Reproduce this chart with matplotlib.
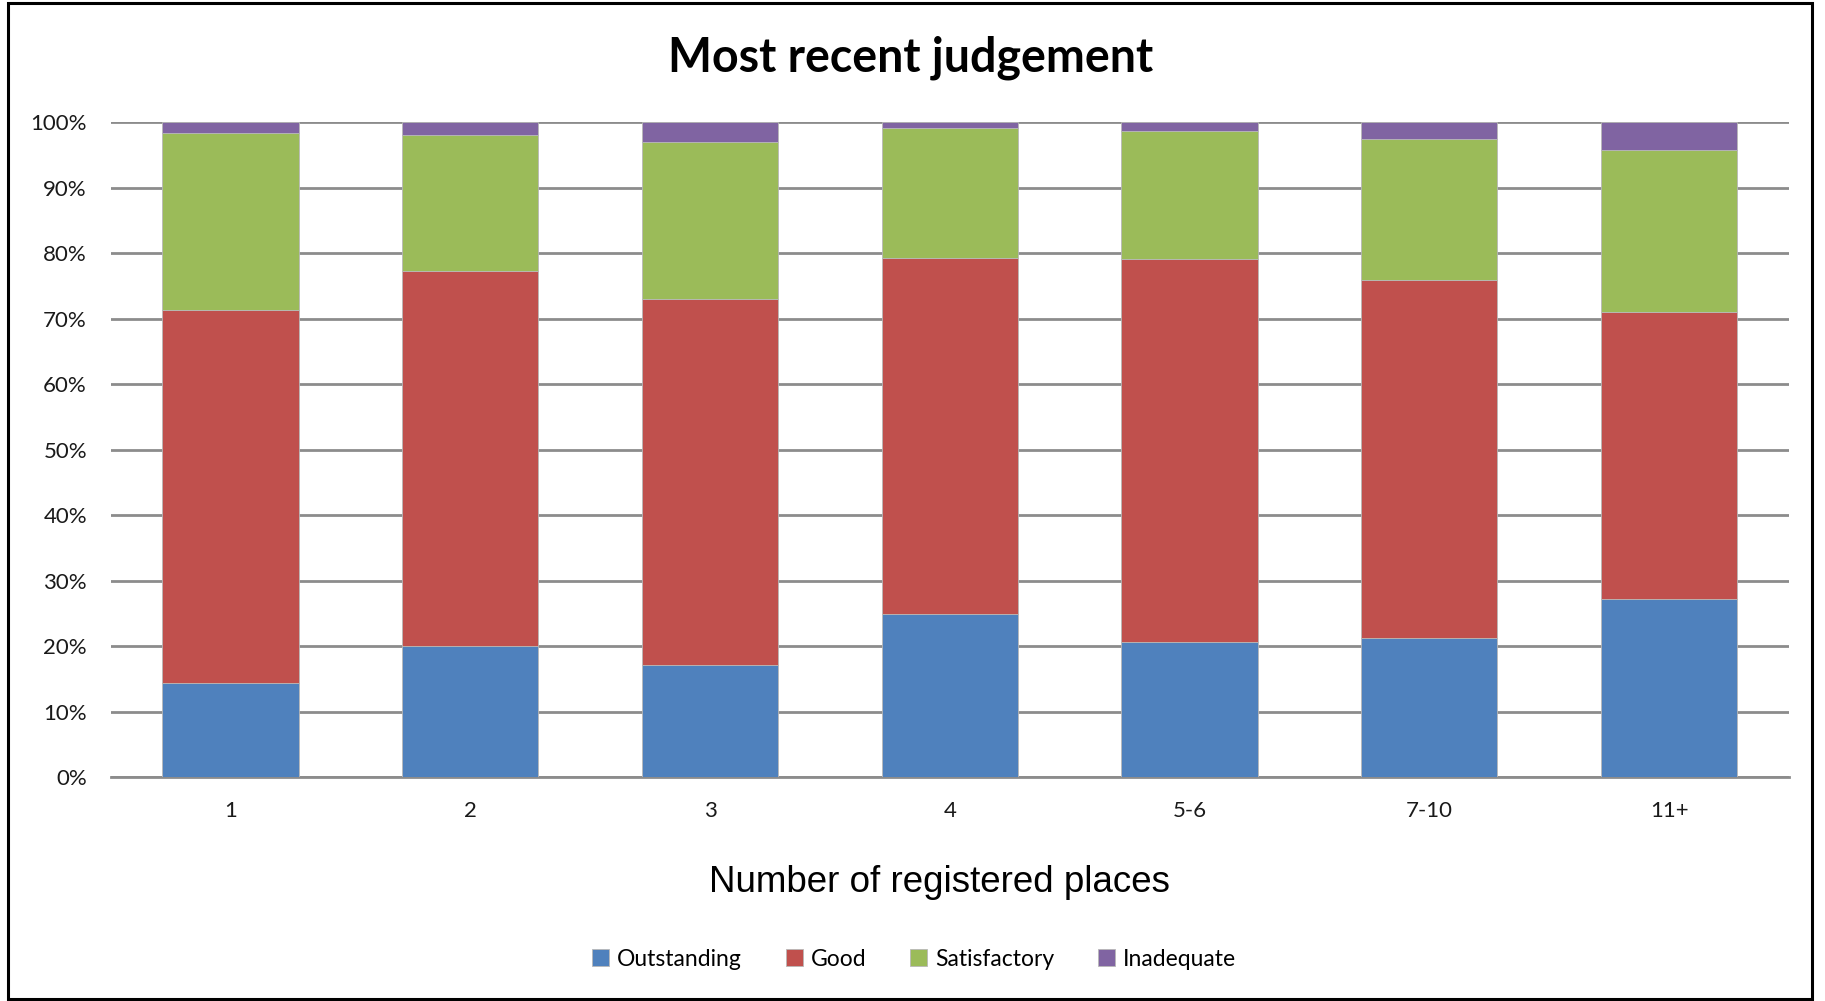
import matplotlib
matplotlib.use("Agg")
import matplotlib.pyplot as plt
import numpy as np
from matplotlib.patches import Rectangle
from matplotlib.ticker import PercentFormatter

categories = ["1", "2", "3", "4", "5-6", "7-10", "11+"]
series_names = ["Outstanding", "Good", "Satisfactory", "Inadequate"]
outstanding = [14.4, 20.1, 17.1, 25.0, 20.7, 21.2, 27.2]
good = [56.9, 57.2, 55.9, 54.3, 58.4, 54.8, 43.8]
satisfactory = [27.0, 20.7, 24.0, 19.8, 19.6, 21.4, 24.8]
inadequate = [1.7, 2.0, 3.0, 0.9, 1.3, 2.6, 4.2]
yticks = [0, 10, 20, 30, 40, 50, 60, 70, 80, 90, 100]

colors = ["#4F81BD", "#C0504D", "#9BBB59", "#8064A2"]

W, H = 1825, 1001
fig = plt.figure(figsize=(W / 100, H / 100), dpi=100)
ax = fig.add_axes([110.6 / W, 1 - 777.3 / H, (1789 - 110.6) / W, (777.3 - 122.3) / H])

x = np.arange(len(categories))
bottom = np.zeros(len(categories))
for name, vals, c in zip(series_names, [outstanding, good, satisfactory, inadequate], colors):
    ax.bar(x, vals, width=0.568, bottom=bottom, color=c, label=name, zorder=3,
           edgecolor="#B8B8B8", linewidth=0.6)
    bottom += np.array(vals)

ax.set_xlim(-0.5, len(categories) - 0.5)
ax.set_ylim(0, 100)
ax.set_yticks(yticks)
ax.yaxis.set_major_formatter(PercentFormatter(decimals=0))
ax.grid(axis="y", color="#8C8C8C", linewidth=2, zorder=0)
ax.set_axisbelow(True)
for s in ["left", "right", "top"]:
    ax.spines[s].set_visible(False)
ax.spines["bottom"].set_color("#8C8C8C")
ax.spines["bottom"].set_linewidth(2)
ax.tick_params(axis="both", length=0, labelsize=16, labelcolor="#1a1a1a")
ax.set_xticks(x)
ax.set_xticklabels(categories)
for lbl in ax.get_xticklabels() + ax.get_yticklabels():
    lbl.set_fontfamily("Lato")
ax.tick_params(axis="y", pad=17)
ax.tick_params(axis="x", pad=17)

fig.text(911 / W, 1 - 58 / H, "Most recent judgement", ha="center", va="center",
         fontsize=33.5, fontweight="bold", family="Lato")
fig.text(939 / W, 1 - 882 / H, "Number of registered places", ha="center", va="center",
         fontsize=26.5, family="Liberation Sans")

leg = fig.legend(loc="center", bbox_to_anchor=(914 / W, 1 - 959 / H), ncol=4, frameon=False,
                 prop={"family": "Lato", "size": 16.5}, handlelength=0.75, handleheight=0.75,
                 handletextpad=0.35, columnspacing=1.9)

fig.patches.append(Rectangle((8 / W, 2 / H), (1812 - 8) / W, (998 - 2) / H,
                             transform=fig.transFigure, fill=False, edgecolor="black",
                             linewidth=2.2))

fig.savefig("out.png", dpi=100)
